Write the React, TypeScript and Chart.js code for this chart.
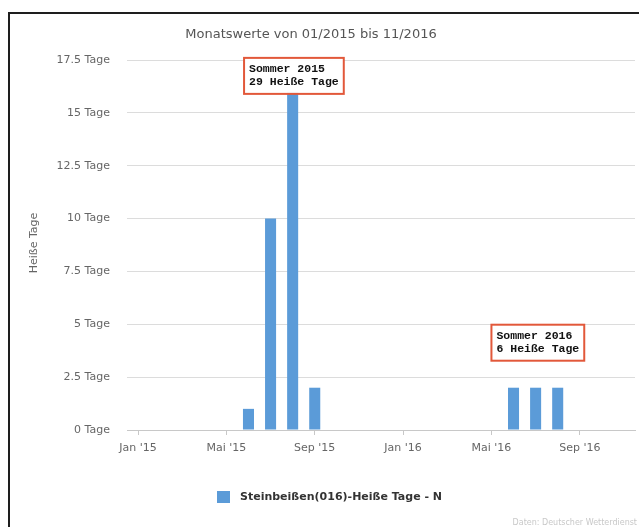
import React, { useEffect, useRef } from "react";
import { Chart, registerables } from "chart.js";

Chart.register(...registerables);

// ---- Data ----
const categories = [
  "Jan '15", "Feb '15", "Mär '15", "Apr '15", "Mai '15", "Jun '15",
  "Jul '15", "Aug '15", "Sep '15", "Okt '15", "Nov '15", "Dez '15",
  "Jan '16", "Feb '16", "Mär '16", "Apr '16", "Mai '16", "Jun '16",
  "Jul '16", "Aug '16", "Sep '16", "Okt '16", "Nov '16",
];
const heisseTage = [0, 0, 0, 0, 0, 1, 10, 16, 2, 0, 0, 0, 0, 0, 0, 0, 0, 2, 2, 2, 0, 0, 0];
const visibleTickLabels = ["Jan '15", "Mai '15", "Sep '15", "Jan '16", "Mai '16", "Sep '16"];
const yMax = 17.5;
const yStep = 2.5;
const yUnit = "Tage";

const chartTitle = "Monatswerte von 01/2015 bis 11/2016";
const yAxisTitle = "Heiße Tage";
const seriesName = "Steinbeißen(016)-Heiße Tage - N";
const creditText = "Daten: Deutscher Wetterdienst";

const annotationLines = [
  ["Sommer 2015", "29 Heiße Tage"],
  ["Sommer 2016", "6 Heiße Tage"],
];
const annotationXIndex = [4.8, 16.0];
const annotationYValue = [17.6, 4.98];

// ---- Styles ----
const BAR_COLOR = "#5b9bd8";
const FONT = "'DejaVu Sans', sans-serif";
const MONO = "'Liberation Mono', 'DejaVu Sans Mono', monospace";

const overlayPlugin = {
  id: "overlay",
  afterDraw(chart: any) {
    const ctx = chart.ctx as CanvasRenderingContext2D;
    const xs = chart.scales.x;
    const ys = chart.scales.y;
    ctx.save();

    // Title
    ctx.fillStyle = "#555";
    ctx.font = `13px ${FONT}`;
    ctx.textAlign = "center";
    ctx.textBaseline = "middle";
    ctx.fillText(chartTitle, 311, 35);

    // Y axis title
    ctx.save();
    ctx.translate(34, 243);
    ctx.rotate(-Math.PI / 2);
    ctx.fillStyle = "#666";
    ctx.font = `11px ${FONT}`;
    ctx.fillText(yAxisTitle, 0, 0);
    ctx.restore();

    // Legend
    ctx.fillStyle = BAR_COLOR;
    ctx.fillRect(217, 491, 13, 12);
    ctx.fillStyle = "#333";
    ctx.font = `bold 11px ${FONT}`;
    ctx.textAlign = "left";
    ctx.fillText(seriesName, 240, 497);

    // Credit
    ctx.fillStyle = "#c8c8c8";
    ctx.font = `8px ${FONT}`;
    ctx.textAlign = "right";
    ctx.fillText(creditText, 637, 523);

    // Annotations
    ctx.font = `bold 11.5px ${MONO}`;
    ctx.textAlign = "left";
    annotationLines.forEach((lines, i) => {
      const left = xs.getPixelForValue(annotationXIndex[i]);
      const top = ys.getPixelForValue(annotationYValue[i]);
      const pad = 5;
      const lh = 13;
      const w = Math.max(...lines.map((l) => ctx.measureText(l).width)) + pad * 2;
      const h = lines.length * lh + pad * 2;
      ctx.fillStyle = "rgba(255,255,255,0.95)";
      ctx.fillRect(left, top, w, h);
      ctx.strokeStyle = "#e2583a";
      ctx.lineWidth = 2;
      ctx.strokeRect(left, top, w, h);
      ctx.fillStyle = "#111";
      lines.forEach((l, j) => {
        ctx.fillText(l, left + pad, top + pad + lh * j + lh / 2);
      });
    });

    ctx.restore();
  },
};

export default function App() {
  const ref = useRef<HTMLCanvasElement | null>(null);

  useEffect(() => {
    if (!ref.current) return;
    const chart = new Chart(ref.current, {
      type: "bar",
      data: {
        labels: categories,
        datasets: [
          {
            label: seriesName,
            data: heisseTage,
            backgroundColor: BAR_COLOR,
            borderWidth: 0,
            barPercentage: 0.5,
            categoryPercentage: 1,
          },
        ],
      },
      options: {
        animation: false,
        responsive: false,
        maintainAspectRatio: false,
        layout: { padding: { left: 0, top: 60, right: 4, bottom: 67 } },
        plugins: {
          legend: { display: false },
          title: { display: false },
          tooltip: { enabled: false },
        },
        scales: {
          x: {
            offset: true,
            afterFit: (s: any) => {
              s.height = 30;
            },
            grid: {
              offset: false,
              drawOnChartArea: false,
              drawTicks: true,
              tickLength: 5,
              color: (c: any) =>
                c.tick && visibleTickLabels.includes(categories[c.index]) ? "#c8c8c8" : "rgba(0,0,0,0)",
            },
            border: { display: true, color: "#c8c8c8" },
            ticks: {
              autoSkip: false,
              maxRotation: 0,
              padding: 7,
              color: "#666",
              font: { family: FONT, size: 11 },
              callback: (_v: any, i: number) =>
                visibleTickLabels.includes(categories[i]) ? categories[i] : "",
            },
          },
          y: {
            min: 0,
            max: yMax,
            afterFit: (s: any) => {
              s.width = 127;
            },
            border: { display: false },
            grid: { color: "#dcdcdc", drawTicks: false },
            ticks: {
              stepSize: yStep,
              padding: 17,
              color: "#666",
              font: { family: FONT, size: 11 },
              callback: (v: any) => `${v} ${yUnit}`,
            },
          },
        },
      },
      plugins: [overlayPlugin],
    });
    return () => chart.destroy();
  }, []);

  return (
    <div style={{ position: "fixed", left: 0, top: 0, width: 639, height: 527, background: "#fff", overflow: "hidden" }}>
      <canvas ref={ref} width={639} height={527} style={{ position: "absolute", left: 0, top: 0 }} />
      <div
        style={{
          position: "absolute",
          left: 8,
          top: 12,
          width: 700,
          height: 600,
          borderLeft: "2px solid #1e1e1e",
          borderTop: "2px solid #1e1e1e",
          pointerEvents: "none",
        }}
      />
    </div>
  );
}
